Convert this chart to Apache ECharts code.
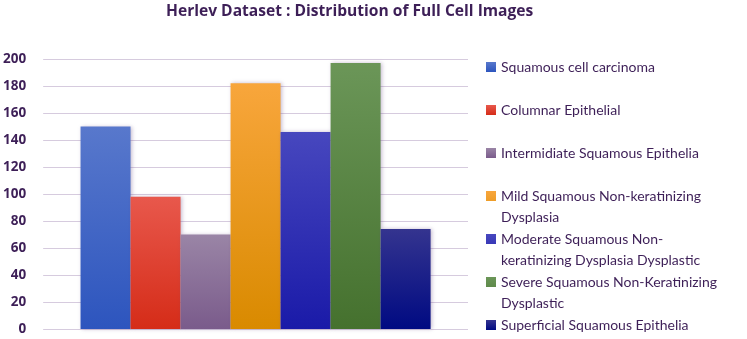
<!DOCTYPE html>
<html>
<head>
<meta charset="utf-8">
<script src="https://cdn.jsdelivr.net/npm/echarts@6/dist/echarts.min.js"></script>
<style>
  html, body { margin: 0; padding: 0; background: #fff; }
  #chart { width: 747px; height: 339px; }
</style>
</head>
<body>
<div id="chart"></div>
<script>
// data
const seriesNames = [
  "Squamous cell carcinoma",
  "Columnar Epithelial",
  "Intermidiate Squamous Epithelia",
  "Mild Squamous Non-keratinizing\nDysplasia",
  "Moderate Squamous Non-\nkeratinizing Dysplasia Dysplastic",
  "Severe Squamous Non-Keratinizing\nDysplastic",
  "Superficial Squamous Epithelia",
];
const seriesValues = [150, 98, 70, 182, 146, 197, 74];
const yTicks = [0, 20, 40, 60, 80, 100, 120, 140, 160, 180, 200];

// gradient colours, top -> bottom
const topColors = ["#5878cc", "#e8584c", "#9a85a6", "#f8a63c", "#4747be", "#6b9658", "#34348f"];
const bottomColors = ["#2d55be", "#d52c18", "#7a5b8b", "#d98a00", "#1a1aa8", "#45712e", "#000a82"];

const textColor = "#3d1f57";
const legendCenters = [67, 110, 153, 196, 239, 282, 325];

// square on top, invisible point below so the square lines up with the first text line
const squareIcon = "path://M0,0H10V10H0Z";
const tallSquareIcon = "path://M0,0H10V10H0ZM0,31H0.01";

let chart = echarts.init(document.getElementById("chart"));

const series = seriesNames.map((name, i) => ({
  name: name,
  type: "bar",
  data: [seriesValues[i]],
  barGap: "0%",
  barCategoryGap: "17.6%",
  itemStyle: {
    color: new echarts.graphic.LinearGradient(0, 0, 0, 1, [
      { offset: 0, color: topColors[i] },
      { offset: 1, color: bottomColors[i] },
    ]),
    shadowColor: "rgba(90,60,120,0.35)",
    shadowBlur: 4,
    shadowOffsetX: 1,
  },
}));

// one legend per item so every first line sits on the same 43px rhythm
const legends = seriesNames.map((name, i) => {
  const twoLines = name.indexOf("\n") >= 0;
  return {
    orient: "vertical",
    left: 486,
    top: legendCenters[i] - 10.5,
    padding: 0,
    itemWidth: 10,
    itemHeight: twoLines ? 31 : 10,
    itemGap: 0,
    icon: twoLines ? tallSquareIcon : squareIcon,
    data: [name],
    selectedMode: false,
    textStyle: {
      color: textColor,
      fontFamily: "Lato",
      fontSize: 14,
      lineHeight: 21,
    },
  };
});

const option = {
  animation: false,
  title: {
    text: "Herlev Dataset : Distribution of Full Cell Images",
    left: 161,
    top: -1,
    textStyle: {
      color: textColor,
      fontFamily: "Open Sans",
      fontWeight: "bold",
      fontSize: 15.6,
    },
  },
  legend: legends,
  grid: {
    left: 42,
    right: 279,
    top: 59,
    bottom: 10,
  },
  xAxis: {
    type: "category",
    data: [""],
    axisLine: { show: false },
    axisTick: { show: false },
    axisLabel: { show: false },
  },
  yAxis: {
    type: "value",
    min: yTicks[0],
    max: yTicks[yTicks.length - 1],
    interval: yTicks[1] - yTicks[0],
    axisLine: { show: false },
    axisTick: { show: false },
    axisLabel: {
      color: textColor,
      fontFamily: "Open Sans",
      fontWeight: "bold",
      fontSize: 13.5,
      margin: 17,
    },
    splitLine: {
      lineStyle: { color: "#d6cbde", width: 1 },
    },
  },
  series: series,
};
chart.setOption(option);
</script>
</body>
</html>
